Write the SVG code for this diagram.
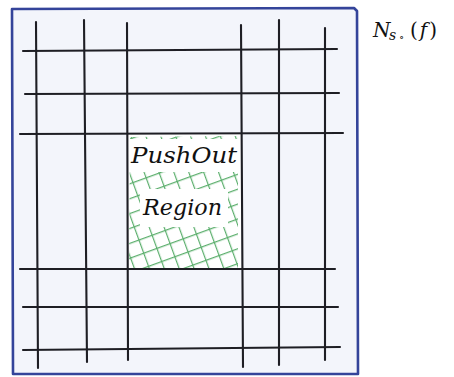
<svg xmlns="http://www.w3.org/2000/svg" width="454" height="377" viewBox="0 0 454 377">
  <style>
    .grid { stroke: #1e1e24; stroke-width: 2.1; stroke-linecap: round; fill: none; }
    .border { stroke: #34449a; stroke-width: 2.6; fill: #f3f5fb; stroke-linejoin: round; }
    .lbl { font-family: 'DejaVu Serif', serif; font-style: italic; fill: #111; }
    .up { font-style: normal; }
  </style>
  <defs>
    <pattern id="hatch" patternUnits="userSpaceOnUse" width="14" height="14" patternTransform="translate(131 138) rotate(-20)">
      <path d="M0 0.6 H14 M0.6 0 V14" stroke="#5aae6b" stroke-width="1.2" fill="none"/>
    </pattern>
  </defs>
  <rect width="454" height="377" fill="#ffffff"/>
  <g id="frame">
    <path class="border" d="M12 9 L354 8 L357 11 L358 374 L13 374 Z"/>
  </g>
  <g id="pushout-region">
    <rect x="128" y="134" width="113" height="135" fill="#ffffff"/>
    <path d="M130 137 L238 136 L238 268 L129 268 Z" fill="url(#hatch)"/>
    <rect x="129" y="139" width="110" height="33" fill="#ffffff"/>
    <rect x="140" y="189" width="88" height="38" fill="#ffffff"/>
    <text class="lbl" x="131" y="163" font-size="22" textLength="106" lengthAdjust="spacingAndGlyphs">PushOut</text>
    <text class="lbl" x="143" y="215" font-size="22" textLength="79" lengthAdjust="spacingAndGlyphs">Region</text>
  </g>
  <g id="grid-lines">
    <path class="grid" d="M36 22 L38 368"/>
    <path class="grid" d="M84 20 L87 362"/>
    <path class="grid" d="M127 23 L128 360"/>
    <path class="grid" d="M241 25 L243 367"/>
    <path class="grid" d="M279 20 L279 365"/>
    <path class="grid" d="M325 28 L325 360"/>
    <path class="grid" d="M23 51 L337 49"/>
    <path class="grid" d="M25 94 L339 93"/>
    <path class="grid" d="M20 134 L343 133"/>
    <path class="grid" d="M20 269 L335 269"/>
    <path class="grid" d="M23 307 L338 307"/>
    <path class="grid" d="M23 350 L340 347"/>
  </g>
  <g id="set-label">
    <text class="lbl" x="373" y="37" font-size="20">N</text>
    <text class="lbl" x="389" y="40" font-size="14">s</text>
    <text class="lbl up" x="399" y="41" font-size="11">∘</text>
    <text class="lbl" x="410" y="37" font-size="20"><tspan class="up">(</tspan><tspan dx="2">f</tspan><tspan class="up" dx="2">)</tspan></text>
  </g>
</svg>
